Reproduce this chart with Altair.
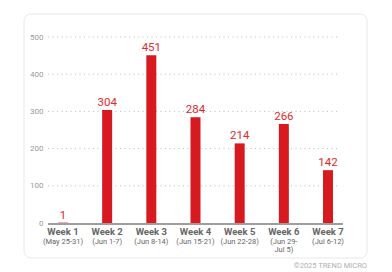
import altair as alt
import pandas as pd

weeks = ["Week 1", "Week 2", "Week 3", "Week 4", "Week 5", "Week 6", "Week 7"]
date_labels = ["(May 25-31)", "(Jun 1-7)", "(Jun 8-14)", "(Jun 15-21)", "(Jun 22-28)", "(Jun 29-\nJul 5)", "(Jul 6-12)"]
counts = [1, 304, 451, 284, 214, 266, 142]
y_ticks = [0, 100, 200, 300, 400, 500]

df = pd.DataFrame({"week": weeks, "dates": date_labels, "count": counts})
grid_df = pd.DataFrame({"tick": y_ticks[1:]})

FONT = "Roboto"
RED = "#d71920"

xscale = alt.Scale(domain=weeks, paddingInner=0.774, paddingOuter=0.226)
yscale = alt.Scale(domain=[0, 500], nice=False)
yaxis = alt.Axis(values=y_ticks, title=None, domain=False, ticks=False,
                 labelFont=FONT, labelFontSize=8, labelColor="#9a9a9a",
                 labelPadding=5, grid=False, zindex=1,
                 labelOverlap=False, labelFlush=False)

base = alt.Chart(df)

card = base.mark_rect(fill="white", stroke="#e8e8e8", strokeWidth=1, cornerRadius=7).encode(
    x=alt.value(-24), x2=alt.value(319), y=alt.value(-23), y2=alt.value(221)
).transform_filter("datum.week == 'Week 1'")

grid = alt.Chart(grid_df).mark_rule(color="#bdbdbd", strokeWidth=1, strokeDash=[1, 3.5]).encode(
    y=alt.Y("tick:Q", scale=yscale, axis=yaxis),
    x=alt.value(0), x2=alt.value(291),
)

bars = base.mark_bar(color=RED, size=10).encode(
    x=alt.X("week:N", scale=xscale, sort=weeks, axis=None),
    y=alt.Y("count:Q", scale=yscale, axis=yaxis),
)

values = base.mark_text(color="#e02a30", font=FONT, fontSize=11.5, baseline="bottom", dy=-2).encode(
    x=alt.X("week:N", scale=xscale, sort=weeks, axis=None),
    y=alt.Y("count:Q", scale=yscale, axis=yaxis),
    text=alt.Text("count:Q"),
)

baseline = base.mark_rule(color="#9e9e9e", strokeWidth=2).encode(
    x=alt.value(0), x2=alt.value(295), y=alt.value(187)
).transform_filter("datum.week == 'Week 1'")

wk_labels = base.mark_text(color="#666666", font=FONT, fontSize=9.5, fontWeight="bold", baseline="middle").encode(
    x=alt.X("week:N", scale=xscale, sort=weeks, axis=None),
    y=alt.value(195),
    text="week:N",
)

date_text = base.mark_text(color="#666666", font=FONT, fontSize=7.5, baseline="top",
                           lineBreak="\n", lineHeight=8.5).encode(
    x=alt.X("week:N", scale=xscale, sort=weeks, axis=None),
    y=alt.value(200.5),
    text="dates:N",
)

copyright = base.mark_text(color="#b0b0b0", font=FONT, fontSize=7.5, align="right", baseline="middle").encode(
    x=alt.value(319), y=alt.value(229), text=alt.value("©2025 TREND MICRO")
).transform_filter("datum.week == 'Week 1'")

chart = alt.layer(card, grid, bars, baseline, values, wk_labels, date_text, copyright).properties(
    width=295, height=186,
    padding={"left": 48, "top": 37, "right": 49, "bottom": 49},
    autosize=alt.AutoSizeParams(type="none"),
    background="white",
).configure_view(stroke=None)

chart.save("out.html", embed_options={"renderer": "svg", "actions": False})
